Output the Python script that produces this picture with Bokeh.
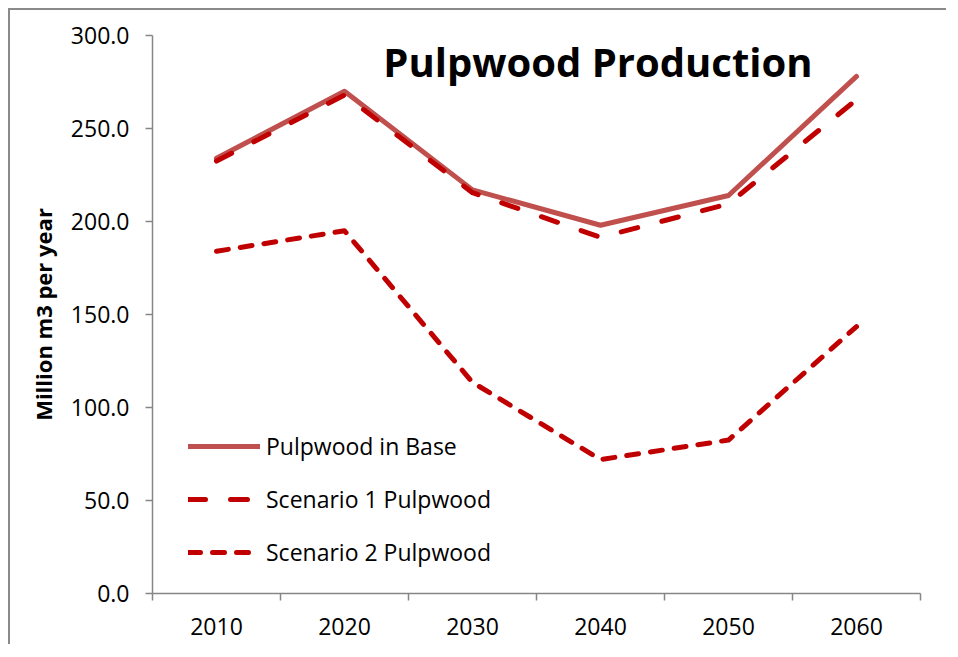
from bokeh.plotting import figure
from bokeh.models import (Range1d, FixedTicker, NumeralTickFormatter, Legend, LegendItem, Label)
from bokeh.embed import file_html
from bokeh.resources import INLINE

years = ["2010", "2020", "2030", "2040", "2050", "2060"]
base = [234.0, 270.0, 217.0, 198.0, 214.0, 278.0]
scen1 = [232.5, 268.0, 215.5, 191.5, 209.5, 265.5]
scen2 = [184.0, 195.0, 113.5, 72.0, 82.5, 143.5]
y_ticks = [0, 50, 100, 150, 200, 250, 300]

xs = [i + 0.5 for i in range(len(years))]
bounds = list(range(len(years) + 1))

FONT = "Open Sans"
AXIS_COLOR = "#868686"

p = figure(width=938, height=636, output_backend="svg", toolbar_location=None,
           x_range=Range1d(0, len(years)), y_range=Range1d(0, 300),
           min_border_left=142, min_border_right=28, min_border_top=25, min_border_bottom=53)
p.styles = {"margin-left": "8px", "margin-top": "8px",
            "border-left": "2px solid #8a8a8a", "border-top": "2px solid #8a8a8a"}
p.outline_line_color = None
p.xgrid.visible = False
p.ygrid.visible = False

r0 = p.line(xs, base, line_color="#C0504D", line_width=5, line_join="round", line_cap="round")
r1 = p.line(xs, scen1, line_color="#C00000", line_width=5, line_dash="17 25",
            line_join="round", line_cap="round")
r2 = p.line(xs, scen2, line_color="#C00000", line_width=5, line_dash="12 12",
            line_join="round", line_cap="round")

# x axis
xa = p.xaxis[0]
xa.ticker = FixedTicker(ticks=xs, minor_ticks=bounds)
xa.major_label_overrides = {x: y for x, y in zip(xs, years)}
xa.major_tick_out = 0
xa.major_tick_in = 0
xa.minor_tick_out = 7
xa.minor_tick_in = 0
xa.minor_tick_line_color = AXIS_COLOR
xa.minor_tick_line_width = 1.5
xa.axis_line_color = AXIS_COLOR
xa.axis_line_width = 1.5
xa.major_label_text_font = FONT
xa.major_label_text_font_size = "23px"
xa.major_label_text_color = "black"
xa.major_label_standoff = 17

# y axis
ya = p.yaxis[0]
ya.ticker = FixedTicker(ticks=y_ticks, minor_ticks=[])
ya.formatter = NumeralTickFormatter(format="0.0")
ya.major_tick_out = 7
ya.major_tick_in = 0
ya.major_tick_line_color = AXIS_COLOR
ya.major_tick_line_width = 1.5
ya.minor_tick_out = 0
ya.minor_tick_in = 0
ya.axis_line_color = AXIS_COLOR
ya.axis_line_width = 1.5
ya.major_label_text_font = FONT
ya.major_label_text_font_size = "23px"
ya.major_label_text_color = "black"
ya.major_label_standoff = 16
ya.axis_label = "Million m3 per year"
ya.axis_label_text_font = FONT
ya.axis_label_text_font_size = "22px"
ya.axis_label_text_font_style = "bold"
ya.axis_label_text_color = "black"
ya.axis_label_standoff = 10

legend = Legend(items=[
    LegendItem(label="Pulpwood in Base", renderers=[r0]),
    LegendItem(label="Scenario 1 Pulpwood", renderers=[r1]),
    LegendItem(label="Scenario 2 Pulpwood", renderers=[r2]),
], location=(36, 25), border_line_color=None, background_fill_alpha=0,
    padding=0, margin=0, spacing=21, glyph_width=72, glyph_height=22, label_height=22,
    label_standoff=6, label_text_font=FONT, label_text_font_size="23px",
    label_text_color="black")
p.add_layout(legend)

title = Label(x=3.48, y=286.2, text="Pulpwood Production", text_align="center",
              text_baseline="alphabetic", text_font=FONT, text_font_size="40px",
              text_font_style="bold", text_color="black")
p.add_layout(title)

open("out.html", "w").write(file_html(p, INLINE))
